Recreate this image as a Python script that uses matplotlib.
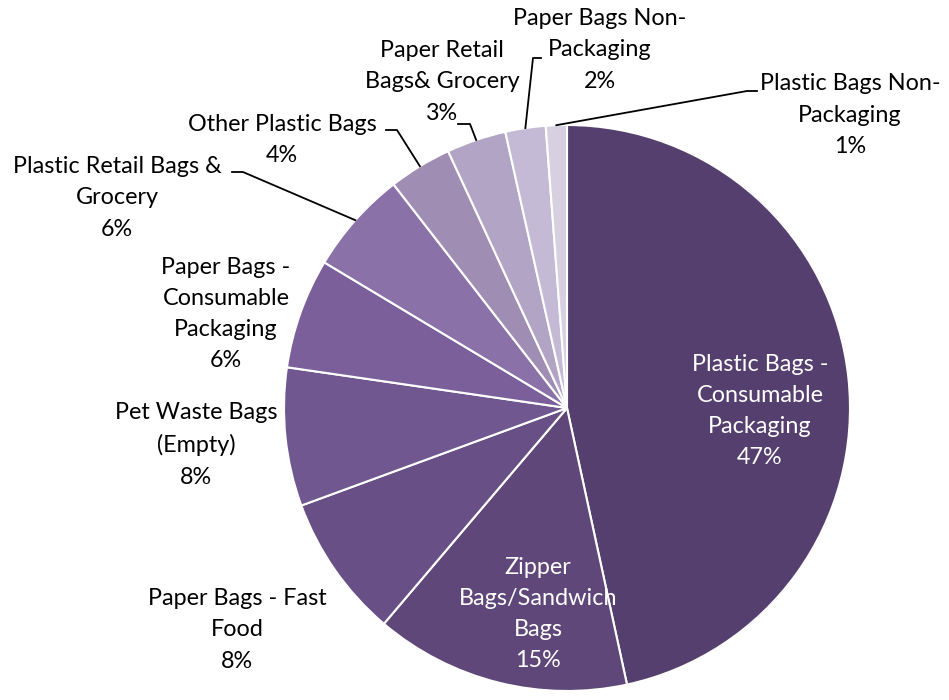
import matplotlib.pyplot as plt
import numpy as np

plt.rcParams['font.family'] = ['Lato', 'DejaVu Sans']

names = ["Plastic Bags -\nConsumable\nPackaging", "Zipper\nBags/Sandwich\nBags",
         "Paper Bags - Fast\nFood", "Pet Waste Bags\n(Empty)",
         "Paper Bags -\nConsumable\nPackaging", "Plastic Retail Bags &\nGrocery",
         "Other Plastic Bags", "Paper Retail\nBags& Grocery",
         "Paper Bags Non-\nPackaging", "Plastic Bags Non-\nPackaging"]
values = [46.6, 14.6, 8.2, 7.9, 6.3, 5.9, 3.6, 3.4, 2.3, 1.2]
colors = ["#553f6e", "#5f4879", "#684f85", "#70578f", "#7b5f9a",
          "#8a72a8", "#a08db4", "#b1a4c4", "#c4bad5", "#d6d0e1"]

H = 700
cx, cy, R = 567, 408, 283

# label centres in pixel coords (top-left origin)
label_pos = [(760, 411), (538, 614), (237, 630), (196, 445), (226, 314),
             (117, 198), (282, 140), (442, 82), (600, 50), (850, 115)]
text_col = ["white", "white"] + ["black"] * 8
# leader lines: (elbow, end) for outside labels
leaders = {5: ((243, 172), (232, 172)),
           6: ((397, 130), (386, 130)),
           7: ((470, 124), (458, 124)),
           8: ((533, 58), (541, 58)),
           9: ((747, 91), (757, 91))}

fig = plt.figure(figsize=(9.49, 7), dpi=100)
ax = fig.add_axes([0, 0, 1, 1])
wedges, _ = ax.pie(values, colors=colors, startangle=90, counterclock=False,
                   center=(cx, H - cy), radius=R,
                   wedgeprops=dict(edgecolor="white", linewidth=1.5))
ax.set_xlim(0, 949)
ax.set_ylim(0, H)
ax.set_aspect("equal")
ax.axis("off")

for i, (nm, v) in enumerate(zip(names, values)):
    x, y = label_pos[i]
    ax.text(x, H - y, nm + "\n%.0f%%" % v, ha="center", va="center",
            fontsize=16.8, color=text_col[i], linespacing=1.6)
    if i in leaders:
        w = wedges[i]
        ang = np.deg2rad((w.theta1 + w.theta2) / 2)
        px = cx + R * np.cos(ang)
        py = (H - cy) + R * np.sin(ang)
        (ex, ey), (tx, ty) = leaders[i]
        ax.plot([px, ex, tx], [py, H - ey, H - ty], color="black", lw=1.3)

fig.savefig("out.png", dpi=100)
